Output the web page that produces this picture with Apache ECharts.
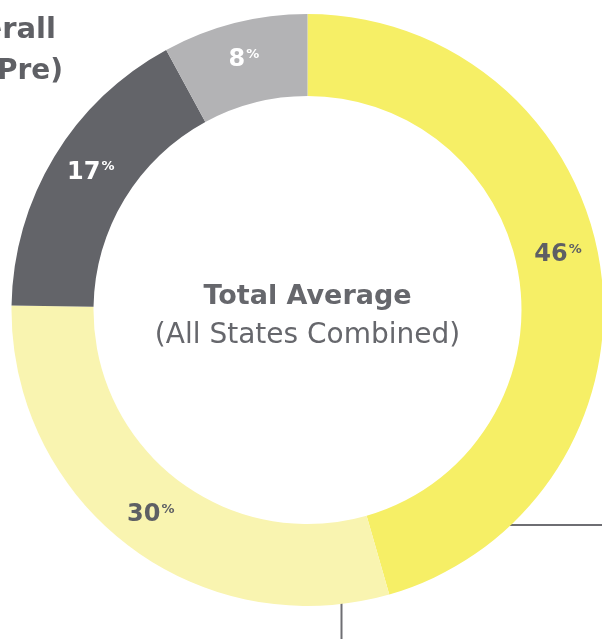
<!DOCTYPE html>
<html>
<head>
<meta charset="utf-8">
<script src="https://cdn.jsdelivr.net/npm/echarts@6/dist/echarts.min.js"></script>
<style>
  html, body { margin: 0; padding: 0; background: #ffffff; }
  #chart { width: 602px; height: 639px; }
</style>
</head>
<body>
<div id="chart"></div>
<script>
// Share of responses, clockwise from 12 o'clock
const categories = ['Group A', 'Group B', 'Group C', 'Group D'];
const shares = [46, 30, 17, 8];
const sliceColors = ['#F6EF66', '#F9F4B0', '#636469', '#B3B3B5'];
const labelColors = ['#5E5F64', '#5E5F64', '#FFFFFF', '#FFFFFF'];

const centerTitle = 'Total Average';
const centerSubtitle = '(All States Combined)';
const sideTitle = ['Overall', '(Pre)'];

const TEXT_GREY = '#66676C';
const HEAVY = '"DejaVu Sans", sans-serif';
const PLAIN = '"DejaVu Sans", sans-serif';

const chart = echarts.init(document.getElementById('chart'), null, { renderer: 'canvas' });

const data = categories.map((name, i) => ({
  name: name,
  value: shares[i],
  itemStyle: { color: sliceColors[i] },
  label: Object.assign(
    { color: labelColors[i],
      rich: {
        num: { fontFamily: HEAVY, fontWeight: 'bold', fontSize: 24, color: labelColors[i] },
        pct: { fontFamily: HEAVY, fontWeight: 'bold', fontSize: 13, color: labelColors[i], verticalAlign: 'top', padding: [0, 0, 10, 1] }
      } },
    i === 0 ? { offset: [-5, -19] } : (i === 2 ? { offset: [4, -4] } : {})
  )
}));

chart.setOption({
  animation: false,
  backgroundColor: '#ffffff',
  graphic: [
    { type: 'line', z: 0, shape: { x1: 450, y1: 525, x2: 602, y2: 525 },
      style: { stroke: '#6E6E73', lineWidth: 2 } },
    { type: 'line', z: 0, shape: { x1: 341.5, y1: 560, x2: 341.5, y2: 639 },
      style: { stroke: '#6E6E73', lineWidth: 2 } },
    { type: 'text', z: 10, x: 56, y: 45,
      style: { text: sideTitle[0], textAlign: 'right', textVerticalAlign: 'bottom',
               fontFamily: HEAVY, fontWeight: 'bold', fontSize: 29, fill: '#5F6065' } },
    { type: 'text', z: 10, x: 63, y: 86,
      style: { text: sideTitle[1], textAlign: 'right', textVerticalAlign: 'bottom',
               fontFamily: HEAVY, fontWeight: 'bold', fontSize: 28, fill: '#5F6065' } },
    { type: 'text', z: 10, x: 307.5, y: 297,
      style: { text: centerTitle, textAlign: 'center', textVerticalAlign: 'middle',
               fontFamily: HEAVY, fontWeight: 'bold', fontSize: 27, fill: TEXT_GREY } },
    { type: 'text', z: 10, x: 307.5, y: 336,
      style: { text: centerSubtitle, textAlign: 'center', textVerticalAlign: 'middle',
               fontFamily: PLAIN, fontWeight: 'normal', fontSize: 28, fill: TEXT_GREY } }
  ],
  series: [{
    type: 'pie',
    center: [307.5, 310],
    radius: [214, 296],
    startAngle: 90,
    clockwise: true,
    avoidLabelOverlap: false,
    silent: true,
    label: {
      show: true,
      position: 'inside',
      formatter: p => '{num|' + p.value + '}{pct|%}'
    },
    labelLine: { show: false },
    data: data
  }]
});
</script>
</body>
</html>
